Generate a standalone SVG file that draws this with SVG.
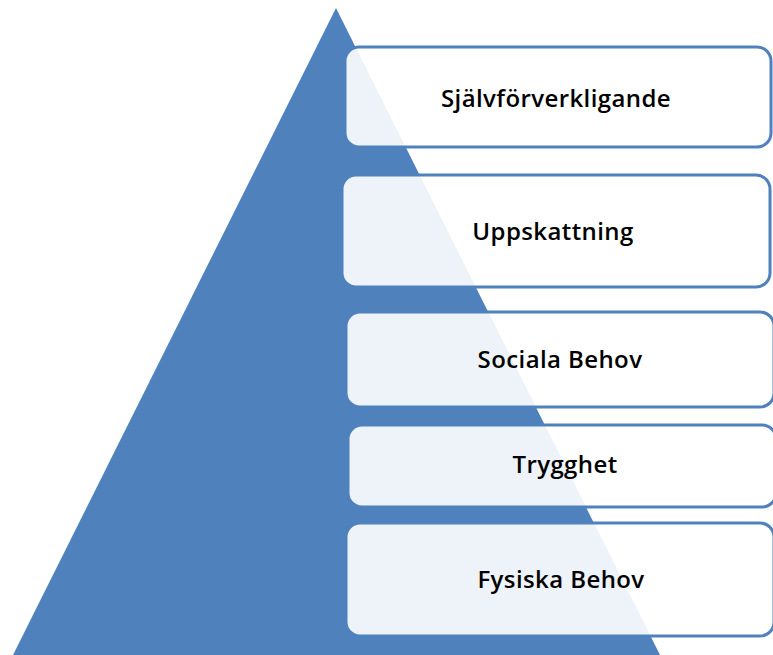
<svg xmlns="http://www.w3.org/2000/svg" width="773" height="655" viewBox="0 0 773 655">
  <style>
    .level rect { fill: #ffffff; fill-opacity: 0.9; stroke: #4F81BD; stroke-width: 3; }
    .level text { font-family: "Open Sans", "Liberation Sans", sans-serif; font-weight: 600; font-size: 24px; letter-spacing: 0.4px; fill: #000000; text-anchor: middle; }
  </style>
  <rect width="773" height="655" fill="#ffffff"/>
  <!-- pyramid -->
  <g id="pyramid">
    <polygon points="336,8 13,655 660,655" fill="#4F81BD"/>
  </g>
  <g id="connectors"/>
  <!-- levels, top to bottom -->
  <g id="level-5" class="level">
    <rect x="345" y="47" width="426" height="100" rx="14"/>
    <text x="556" y="107">Självförverkligande</text>
  </g>
  <g id="level-4" class="level">
    <rect x="342" y="175" width="428" height="112" rx="14"/>
    <text x="553" y="240">Uppskattning</text>
  </g>
  <g id="level-3" class="level">
    <rect x="346" y="312" width="428" height="95" rx="14"/>
    <text x="560" y="368">Sociala Behov</text>
  </g>
  <g id="level-2" class="level">
    <rect x="348" y="425" width="428" height="82" rx="14"/>
    <text x="565" y="473">Trygghet</text>
  </g>
  <g id="level-1" class="level">
    <rect x="346" y="523" width="428" height="113" rx="14"/>
    <text x="561" y="588">Fysiska Behov</text>
  </g>
</svg>
